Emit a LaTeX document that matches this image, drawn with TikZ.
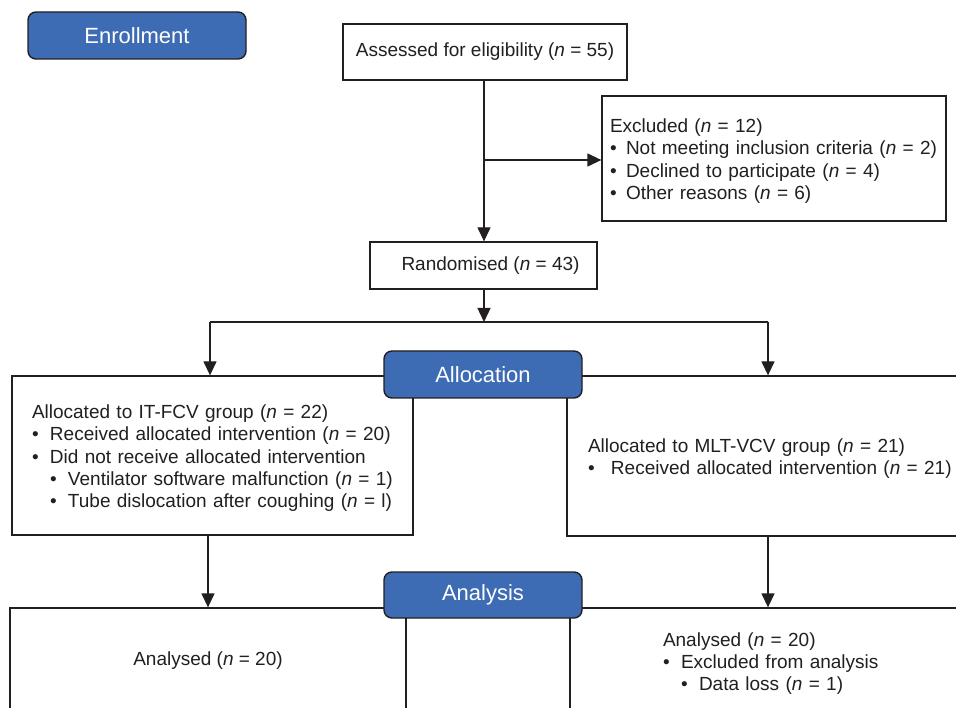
\documentclass[tikz,border=0pt]{standalone}
\usepackage{fontspec}
\setmainfont{Liberation Sans}
\usepackage{xcolor}
\usepackage{tikz}
\usetikzlibrary{positioning, arrows.meta}
\definecolor{PhaseBlue}{RGB}{61,107,180}
\definecolor{InkGrey}{RGB}{35,31,32}
\newcommand{\bul}[1][18pt]{\makebox[#1][l]{\textbullet}}
\newcommand{\topstrut}{\rule{0pt}{19pt}}
\tikzset{
  phase/.style={draw=InkGrey, line width=1.4pt, fill=PhaseBlue, rounded corners=8pt,
    text=white, minimum width=198pt, minimum height=47pt, inner sep=0pt,
    font=\fontsize{22}{26}\selectfont},
  fbox/.style={draw=InkGrey, line width=1.3pt, fill=white, inner ysep=0pt,
    text=InkGrey, font=\fontsize{19}{22.3}\selectfont},
  arr/.style={-{Triangle[length=14pt, width=13pt]}, line width=1.3pt, InkGrey},
  conn/.style={line width=1.3pt, InkGrey},
}

\begin{document}
\begin{tikzpicture}[x=1pt, y=-1pt]
  \useasboundingbox (0,0) rectangle (956,708);
  \clip (0,0) rectangle (956,708);
  % boxes
  \node[fbox, minimum width=284pt, minimum height=56pt, inner xsep=0pt] (assess) at (485,52)
    {Assessed for eligibility (\textit{n} = 55)};
  \node[fbox, minimum height=125pt, inner xsep=8pt, text width=328pt, align=left] (excl) at (774,158.5)
    {\topstrut Excluded (\textit{n} = 12)\\
     \bul[16pt]Not meeting inclusion criteria (\textit{n} = 2)\\
     \bul[16pt]Declined to participate (\textit{n} = 4)\\
     \bul[16pt]Other reasons (\textit{n} = 6)};
  \node[fbox, minimum width=227pt, minimum height=47pt, inner xsep=0pt] (rand) at (483.5,265.5)
    {\hspace*{14pt}Randomised (\textit{n} = 43)};
  \node[fbox, minimum height=159pt, inner xsep=20pt, text width=361pt, align=left] (armA) at (212.5,455.5)
    {\topstrut Allocated to IT-FCV group (\textit{n} = 22)\\
     \bul Received allocated intervention (\textit{n} = 20)\\
     \bul Did not receive allocated intervention\\
     \hspace*{18pt}\bul Ventilator software malfunction (\textit{n} = 1)\\
     \hspace*{18pt}\bul Tube dislocation after coughing (\textit{n} = l)};
  \node[fbox, minimum height=160pt, inner xsep=21pt, text width=381pt, align=left] (armB) at (778.5,456)
    {\topstrut Allocated to MLT-VCV group (\textit{n} = 21)\\
     \bul[23pt]Received allocated intervention (\textit{n} = 21)};
  \node[fbox, minimum width=396pt, minimum height=106pt, inner xsep=0pt] (anaA) at (208,661)
    {Analysed (\textit{n} = 20)};
  \node[fbox, minimum height=106pt, inner xsep=93pt, text width=234pt, align=left] (anaB) at (780,661)
    {\topstrut Analysed (\textit{n} = 20)\\
     \bul Excluded from analysis\\
     \hspace*{18pt}\bul Data loss (\textit{n} = 1)};

  % connectors
  \coordinate (branch) at (484,160);
  \coordinate (split) at (484,322);
  \coordinate (splitL) at (210,322);
  \coordinate (splitR) at (768,322);
  \draw[arr] (assess.south -| branch) -- (rand.north -| branch);
  \draw[arr] (branch) -- (branch -| excl.west);
  \draw[arr] (rand.south -| split) -- (split);
  \draw[conn] (splitL) -- (splitR);
  \draw[arr] (splitL) -- (splitL |- armA.north);
  \draw[arr] (splitR) -- (splitR |- armB.north);
  \draw[arr] (armA.south -| anaA.north) -- (anaA.north);
  \draw[arr] (armB.south -| splitR) -- (anaB.north -| splitR);

  % phase labels
  \node[phase, minimum width=218pt] (enroll) at (137,35.5) {Enrollment};
  \node[phase] (alloc) at (483,374.5) {Allocation};
  \node[phase, minimum height=46pt] (analysis) at (483,595) {Analysis};
\end{tikzpicture}
\end{document}
